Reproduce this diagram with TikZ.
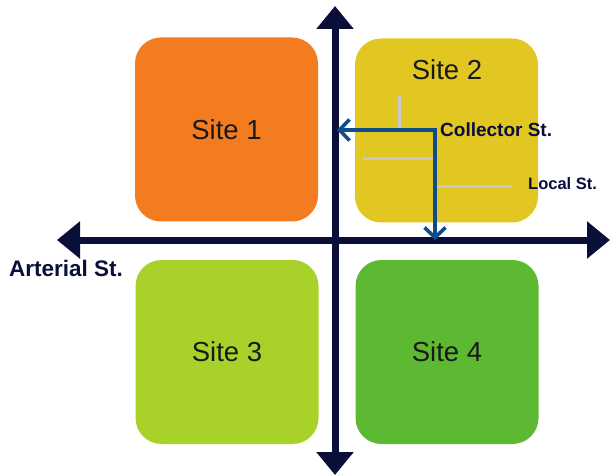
\documentclass[tikz,border=0pt]{standalone}
\usepackage{fontspec}
\setmainfont{Liberation Sans}
\usetikzlibrary{arrows.meta}
\definecolor{siteorange}{HTML}{F47C20}
\definecolor{siteyellow}{HTML}{E2C622}
\definecolor{sitelime}{HTML}{A8D22A}
\definecolor{sitegreen}{HTML}{5DB932}
\definecolor{navy}{HTML}{0A0F3A}
\definecolor{collector}{HTML}{0E4C8A}
\definecolor{localgrey}{HTML}{C8C8C8}
\tikzset{
  site/.style={rounded corners=26pt, minimum width=183pt, minimum height=184pt,
    inner sep=0pt, draw=none, font=\fontsize{27.5}{32}\selectfont, text=black!90},
  axis/.style={navy, line width=7pt, -{Triangle[length=23pt,width=36pt]}},
  localst/.style={localgrey, line width=3pt},
  collst/.style={collector, line width=3.6pt, line join=miter,
    {Straight Barb[length=10pt,width=21pt]}-{Straight Barb[length=10pt,width=21pt]}},
  lbl/.style={font=\bfseries, text=navy, inner sep=0pt, anchor=west}
}
\begin{document}
\begin{tikzpicture}[x=1pt,y=-1pt]
\useasboundingbox (0,0) rectangle (611,476);
% four sites
\node[site, fill=siteorange] (s1) at (226.5,129.5) {Site 1};
\node[site, fill=siteyellow] (s2) at (446.5,130.5) {};
\node[font=\fontsize{27.5}{32}\selectfont, text=black!90] (s2t) at (447,70) {Site 2};
\node[site, fill=sitelime] (s3) at (227,352) {Site 3};
\node[site, fill=sitegreen] (s4) at (447,352) {Site 4};
% arterial axes, drawn outwards from the crossing
\coordinate (mid) at (335,240);
\coordinate (top) at (335,6);
\coordinate (bot) at (335,475);
\coordinate (lft) at (57,240);
\coordinate (rgt) at (610,240);
\draw[axis] (mid) -- (top);
\draw[axis] (mid) -- (bot);
\draw[axis] (mid) -- (lft);
\draw[axis] (mid) -- (rgt);
% local streets
\coordinate (l1a) at (399,95);
\coordinate (l1b) at (399,130);
\coordinate (l2a) at (363,159);
\coordinate (l2b) at (435,159);
\coordinate (l3a) at (435,187);
\coordinate (l3b) at (512,187);
\draw[localst] (l1a) -- (l1b);
\draw[localst] (l2a) -- (l2b);
\draw[localst] (l3a) -- (l3b);
% collector street
\coordinate (cw) at (337,130);
\coordinate (cc) at (435,130);
\coordinate (cs) at (435,240);
\draw[collst] (cw) -- (cc) -- (cs);
% labels
\node[lbl, font=\bfseries\fontsize{19}{21}\selectfont] (coll) at (440,130) {Collector St.};
\node[lbl, font=\bfseries\fontsize{16.5}{18}\selectfont] (loc) at (528,184) {Local St.};
\node[lbl, font=\bfseries\fontsize{22.5}{24}\selectfont] (art) at (9,268) {Arterial St.};
\end{tikzpicture}
\end{document}
